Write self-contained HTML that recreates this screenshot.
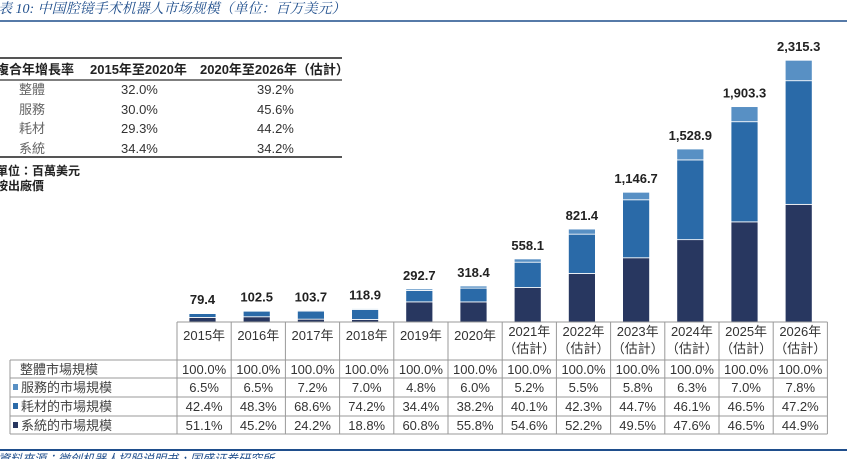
<!DOCTYPE html>
<html><head><meta charset="utf-8"><style>
body{margin:0;width:847px;height:459px;background:#fff;overflow:hidden;font-family:"Liberation Sans","Noto Sans CJK TC",sans-serif;}
svg{display:block}
</style></head><body>
<svg id="c" width="847" height="459" xmlns="http://www.w3.org/2000/svg">
<text x="-2" y="13" font-size="14" font-style="italic" fill="#1f4e8c" font-family="Liberation Serif,Noto Serif CJK SC,serif">表 10:  中国腔镜手术机器人市场规模（单位：百万美元）</text>
<line x1="0" y1="21" x2="847" y2="21" stroke="#1f4e8c" stroke-width="1.5"/>
<g id="cagr" font-size="13" fill="#333">
<line x1="0" y1="58" x2="342" y2="58" stroke="#555" stroke-width="2"/>
<line x1="0" y1="80" x2="342" y2="80" stroke="#555" stroke-width="1.5"/>
<line x1="0" y1="157" x2="342" y2="157" stroke="#555" stroke-width="2"/>
<text x="-4" y="74" font-weight="bold" fill="#222">複合年增長率</text>
<text x="90" y="74" font-weight="bold" fill="#222">2015年至2020年</text>
<text x="200" y="74" font-weight="bold" fill="#222">2020年至2026年（估計）</text>
<text x="19" y="94" fill="#666">整體</text><text x="121" y="94">32.0%</text><text x="257" y="94">39.2%</text>
<text x="19" y="114" fill="#666">服務</text><text x="121" y="114">30.0%</text><text x="257" y="114">45.6%</text>
<text x="19" y="133" fill="#666">耗材</text><text x="121" y="133">29.3%</text><text x="257" y="133">44.2%</text>
<text x="19" y="153" fill="#666">系統</text><text x="121" y="153">34.4%</text><text x="257" y="153">34.2%</text>
<text x="-4" y="175" font-weight="bold" font-size="12" fill="#222">單位：百萬美元</text>
<text x="-4" y="190" font-weight="bold" font-size="12" fill="#222">按出廠價</text>
</g>
<g id="bars"></g>
<g id="tbl" font-size="13" fill="#333"></g>
<line x1="0" y1="450" x2="847" y2="450" stroke="#1f4e8c" stroke-width="2"/>
<text x="-2" y="463" font-size="12" font-style="italic" fill="#1f4e8c">資料來源：微创机器人招股说明书，国盛证券研究所</text>
</svg>
<script>
const years=["2015年","2016年","2017年","2018年","2019年","2020年","2021年","2022年","2023年","2024年","2025年","2026年"];
const est=[false,false,false,false,false,false,true,true,true,true,true,true];
const totals=[79.4,102.5,103.7,118.9,292.7,318.4,558.1,821.4,1146.7,1528.9,1903.3,2315.3];
const totalLabels=["79.4","102.5","103.7","118.9","292.7","318.4","558.1","821.4","1,146.7","1,528.9","1,903.3","2,315.3"];
const servicePct=[6.5,6.5,7.2,7.0,4.8,6.0,5.2,5.5,5.8,6.3,7.0,7.8];
const consumPct=[42.4,48.3,68.6,74.2,34.4,38.2,40.1,42.3,44.7,46.1,46.5,47.2];
const systemPct=[51.1,45.2,24.2,18.8,60.8,55.8,54.6,52.2,49.5,47.6,46.5,44.9];
const NS="http://www.w3.org/2000/svg";
const base=322,pxPer=262/2315.3,colX0=177,colW=54.2,barW=27;
const y=v=>base-v*pxPer;
const xCol=i=>colX0+i*colW;
function mk(tag,attrs,parent,txt){const e=document.createElementNS(NS,tag);for(const k in attrs)e.setAttribute(k,attrs[k]);if(txt!==undefined)e.textContent=txt;parent.appendChild(e);return e;}
const bars=document.getElementById('bars'),tbl=document.getElementById('tbl');
const segColors=["#283760","#2a6aa8","#5890c4"];
years.forEach((yr,i)=>{
  const bx=xCol(i)+12;
  const segs=[systemPct[i],consumPct[i],servicePct[i]];
  let acc=0;
  segs.forEach((p,s)=>{
    const v=totals[i]*p/100;
    const r=mk('rect',{x:bx,y:y(acc+v),width:barW,height:Math.max(v*pxPer,0),fill:segColors[s],stroke:"#fff","stroke-width":0.8},bars);
    
    
    acc+=v;
  });
  const t=mk('text',{x:bx+barW/2,y:y(totals[i])-9,"text-anchor":"middle","font-size":13,"font-weight":"bold",fill:"#222"},bars,totalLabels[i]);
  
  
  const cx=xCol(i)+colW/2;
  const l=mk('text',{x:cx,y:est[i]?336:340,"text-anchor":"middle","font-size":13,fill:"#333"},tbl,yr);
  
  
  if(est[i]){const e=mk('text',{x:cx,y:353,"text-anchor":"middle","font-size":13,fill:"#333"},tbl,"（估計）");
  
  }
});
const gx1=xCol(12);
mk('line',{x1:colX0,y1:base,x2:gx1,y2:base,stroke:"#999"},tbl);
const rowY=[360,378,397,416,434];
rowY.forEach((ry,k)=>mk('line',{x1:10,y1:ry,x2:gx1,y2:ry,stroke:"#999"},tbl));
for(let i=0;i<=12;i++)mk('line',{x1:xCol(i),y1:base,x2:xCol(i),y2:434,stroke:"#999"},tbl);
mk('line',{x1:10,y1:360,x2:10,y2:434,stroke:"#999"},tbl);
const rowNames=["整體市場規模","服務的市場規模","耗材的市場規模","系統的市場規模"];
const rowMarks=[null,"#5890c4","#2a6aa8","#283760"];
const rowData=[years.map(()=>100.0),servicePct,consumPct,systemPct];
rowNames.forEach((nm,r)=>{
  const cy=rowY[r]+14;
  if(rowMarks[r])mk('rect',{x:13,y:cy-8,width:5,height:6,fill:rowMarks[r]},tbl);
  const t=mk('text',{x:rowMarks[r]?21:20,y:cy,"font-size":13,fill:"#444"},tbl,nm);
  
  
  rowData[r].forEach((v,i)=>{
    const c=mk('text',{x:xCol(i)+colW/2,y:cy,"text-anchor":"middle","font-size":13,fill:"#333"},tbl,v.toFixed(1)+"%");
    
    
  });
});
</script>
</body></html>
